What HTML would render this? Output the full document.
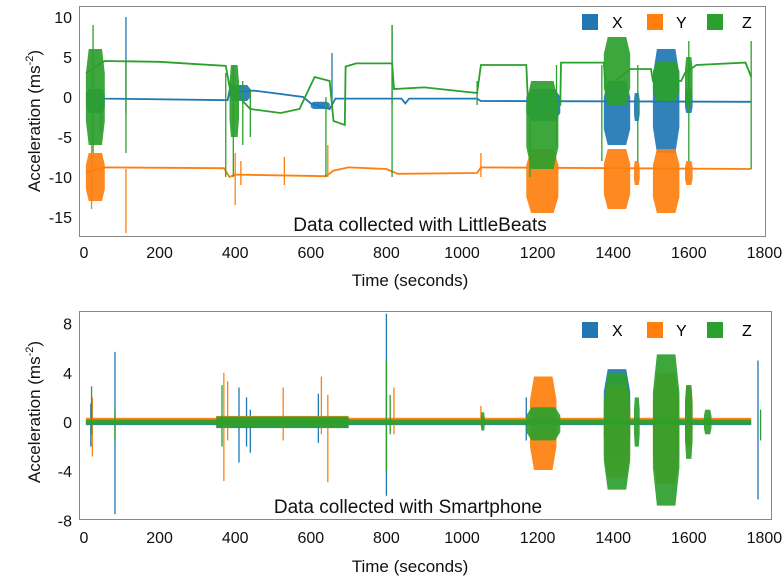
<!DOCTYPE html>
<html><head><meta charset="utf-8"><style>
body{margin:0;background:#fff;}
svg{display:block;font-family:"Liberation Sans",sans-serif;}
</style></head><body>
<svg id="c" width="782" height="579">
<defs>
<clipPath id="clipTop"><rect x="80" y="7" width="685" height="229"/></clipPath>
<clipPath id="clipBot"><rect x="80" y="312" width="691" height="207"/></clipPath>
</defs>
<g id="topPanel">
<rect x="79.5" y="6.5" width="686" height="230" fill="none" stroke="#888" stroke-width="1"/>
<g id="topMarks" clip-path="url(#clipTop)"></g>
<g id="topTicks"></g>
<text x="420" y="231" font-size="19" text-anchor="middle" fill="#111">Data collected with LittleBeats</text>
<text x="410" y="286" font-size="17" text-anchor="middle" fill="#111">Time (seconds)</text>
<text transform="translate(40,121) rotate(-90)" font-size="17" text-anchor="middle" fill="#111">Acceleration (ms<tspan font-size="11" dy="-7">-2</tspan><tspan dy="7">)</tspan></text>
<g>
<rect x="582" y="14" width="16" height="16" fill="#1f77b4"/><text x="612" y="28" font-size="16">X</text>
<rect x="647" y="14" width="16" height="16" fill="#ff7f0e"/><text x="676" y="28" font-size="16">Y</text>
<rect x="707" y="14" width="16" height="16" fill="#2ca02c"/><text x="742" y="28" font-size="16">Z</text>
</g>
</g>
<g id="botPanel">
<rect x="79.5" y="311.5" width="692" height="208" fill="none" stroke="#888" stroke-width="1"/>
<g id="botMarks" clip-path="url(#clipBot)"></g>
<g id="botTicks"></g>
<text x="408" y="513" font-size="19" text-anchor="middle" fill="#111">Data collected with Smartphone</text>
<text x="410" y="572" font-size="17" text-anchor="middle" fill="#111">Time (seconds)</text>
<text transform="translate(40,412) rotate(-90)" font-size="17" text-anchor="middle" fill="#111">Acceleration (ms<tspan font-size="11" dy="-7">-2</tspan><tspan dy="7">)</tspan></text>
<g>
<rect x="582" y="322" width="16" height="16" fill="#1f77b4"/><text x="612" y="336" font-size="16">X</text>
<rect x="647" y="322" width="16" height="16" fill="#ff7f0e"/><text x="676" y="336" font-size="16">Y</text>
<rect x="707" y="322" width="16" height="16" fill="#2ca02c"/><text x="742" y="336" font-size="16">Z</text>
</g>
</g>
</svg>
<script>
const xTicks = [0,200,400,600,800,1000,1200,1400,1600,1800];
const topYTicks = [10,5,0,-5,-10,-15];
const botYTicks = [8,4,0,-4,-8];

const topXLevels = [[5,0.5],[25,0.2],[55,-0.2],[380,-0.4],[388,1.5],[400,0.6],[450,0.8],[500,0.5],[580,0],[600,-0.8],[650,-1.5],[665,-0.2],[840,-0.2],[850,-0.8],[860,-0.2],[1040,-0.2],[1050,-0.5],[1765,-0.6]];
const topXBursts = [[5,55,-2,1],[385,440,-0.5,1.5],[600,650,-1.5,-0.6],[1170,1260,-3,1],[1375,1445,-6,2],[1455,1470,-3,0.5],[1505,1575,-7,6],[1590,1610,-2,1]];
const topXSpikes = [[45,-4.5,0],[111,-2,10],[656,-1,5.5],[815,-1,9]];

const topYLevels = [[5,-9.5],[55,-8.8],[370,-8.9],[385,-10],[400,-9.7],[640,-9.9],[660,-9.2],[700,-8.8],[800,-9],[830,-9.6],[1040,-9.5],[1050,-8.8],[1765,-9]];
const topYBursts = [[5,55,-13,-7],[1170,1255,-14.5,-6.5],[1375,1445,-14,-6.5],[1455,1470,-11,-8],[1505,1575,-14.5,-6.5],[1590,1610,-11,-8]];
const topYSpikes = [[20,-14,-6],[111,-17,-9],[400,-13.5,-7],[415,-11,-8],[530,-11,-7.5],[645,-10,-6],[1050,-10,-7]];

const topZLevels = [[5,3],[55,4.5],[200,4.4],[300,4.1],[375,3.9],[386,1],[410,0],[440,-1.5],[520,-2],[570,-1.5],[590,0.5],[610,2.5],[650,2],[660,-3],[690,-3.5],[692,3.8],[720,4.2],[815,4.2],[820,1],[900,1.2],[1040,0.5],[1050,4],[1170,4],[1175,-1],[1260,-1],[1262,4.3],[1375,4.3],[1380,1],[1445,3.5],[1500,3.5],[1505,2],[1580,2],[1590,3],[1620,4],[1750,4.3],[1765,2.5]];
const topZBursts = [[5,55,-6,6],[385,410,-5,4],[1170,1255,-9,2],[1375,1445,-1,7.5],[1505,1575,-0.5,4.5],[1590,1610,-1,5]];
const topZSpikes = [[24,-7,9],[111,-7,4.5],[375,-10,3],[395,-10,4],[420,-6,2],[440,-5,1],[640,-10,0],[815,-10,9],[1040,-1,2],[1180,-10,0],[1250,-6,4],[1370,-8,4],[1465,-8,4],[1600,-8,7],[1765,-9,7]];

const botXBursts = [[5,1765,-0.25,0.05],[350,700,-0.5,0.4],[1375,1445,-3,4.3]];
const botXSpikes = [[18,-2,1.5],[82,-7.5,5.7],[410,-3.3,2.8],[430,-2,2],[440,-2.5,1],[620,-1.7,2.3],[800,-6,8.8],[1170,-1.5,2],[1783,-6.3,5]];
const botYBursts = [[5,1765,-0.05,0.35],[350,700,-0.3,0.5],[1180,1250,-3.9,3.7],[1375,1445,-4.5,3],[1505,1575,-5,4],[1590,1610,-2,3]];
const botYSpikes = [[22,-2.8,2],[370,-4.8,4],[380,-1.5,3.3],[527,-1.5,2.8],[628,-1,3.7],[645,-4.9,2.2],[820,-1,2.8],[1050,-0.3,1.3]];
const botZBursts = [[5,1765,-0.2,0.2],[350,700,-0.45,0.45],[1050,1060,-0.7,0.8],[1170,1260,-1.5,1.2],[1375,1445,-5.5,4],[1455,1470,-2,2],[1505,1575,-6.8,5.5],[1590,1610,-3,3],[1640,1660,-1,1]];
const botZSpikes = [[20,-1,2.9],[82,-1.5,1],[365,-2,3],[800,-4,5],[810,-1,2.2],[1790,-1.5,1]];

const COL = {x:'#1f77b4', y:'#ff7f0e', z:'#2ca02c'};
const NS = 'http://www.w3.org/2000/svg';
function xs(t){ return 84 + t*0.378; }
function ysTop(v){ return 97 - v*8; }
function ysBot(v){ return 422 - v*12.3; }

function mk(tag, attrs, parent){
  const e = document.createElementNS(NS, tag);
  for (const k in attrs) e.setAttribute(k, attrs[k]);
  parent.appendChild(e);
  return e;
}
function drawSeries(g, ys, levels, bursts, spikes, color, name){
  if (levels){
    const pts = levels.map(p => xs(p[0]).toFixed(1)+','+ys(p[1]).toFixed(1)).join(' ');
    const pl = mk('polyline', {points:pts, fill:'none', stroke:color, 'stroke-width':1.8}, g);
    
    
  }
  bursts.forEach(b => {
    const x0 = xs(b[0]), x1 = xs(b[1]);
    const w = x1 - x0;
    const long = w > 100;
    const tp = long ? 0 : w*0.15;
    const mid = (ys(b[2]) + ys(b[3]))/2;
    const top = ys(b[3]), bot = Math.max(ys(b[2]), top+1.5);
    const sh = long ? 0 : (bot-top)*0.25;
    const pts = [[x0,mid-sh],[x0+tp,top],[x1-tp,top],[x1,mid-sh],[x1,mid+sh],[x1-tp,bot],[x0+tp,bot],[x0,mid+sh]]
      .map(p => p[0].toFixed(1)+','+p[1].toFixed(1)).join(' ');
    const r = mk('polygon', {points:pts, fill:color, 'fill-opacity':0.92}, g);
    
    
  });
  spikes.forEach(s => {
    const l = mk('line', {x1:xs(s[0]), x2:xs(s[0]), y1:ys(s[1]), y2:ys(s[2]), stroke:color, 'stroke-width':1.3}, g);
    
    
  });
}
const tm = document.getElementById('topMarks');
drawSeries(tm, ysTop, topXLevels, topXBursts, topXSpikes, COL.x, 'top-x');
drawSeries(tm, ysTop, topYLevels, topYBursts, topYSpikes, COL.y, 'top-y');
drawSeries(tm, ysTop, topZLevels, topZBursts, topZSpikes, COL.z, 'top-z');
const bm = document.getElementById('botMarks');
drawSeries(bm, ysBot, null, botXBursts, botXSpikes, COL.x, 'bottom-x');
drawSeries(bm, ysBot, null, botYBursts, botYSpikes, COL.y, 'bottom-y');
drawSeries(bm, ysBot, null, botZBursts, botZSpikes, COL.z, 'bottom-z');

function ticks(gid, yTicks, ys, xLabelY){
  const g = document.getElementById(gid);
  xTicks.forEach(t => {
    const tx = mk('text', {x:xs(t), y:xLabelY, 'font-size':16, 'text-anchor':'middle', fill:'#111'}, g);
    tx.textContent = t;
    
    
  });
  yTicks.forEach(v => {
    const ty = mk('text', {x:72, y:ys(v)+6, 'font-size':16, 'text-anchor':'end', fill:'#111'}, g);
    ty.textContent = v;
    
    
  });
}
ticks('topTicks', topYTicks, ysTop, 258);
ticks('botTicks', botYTicks, ysBot, 543);
</script>
</body></html>
